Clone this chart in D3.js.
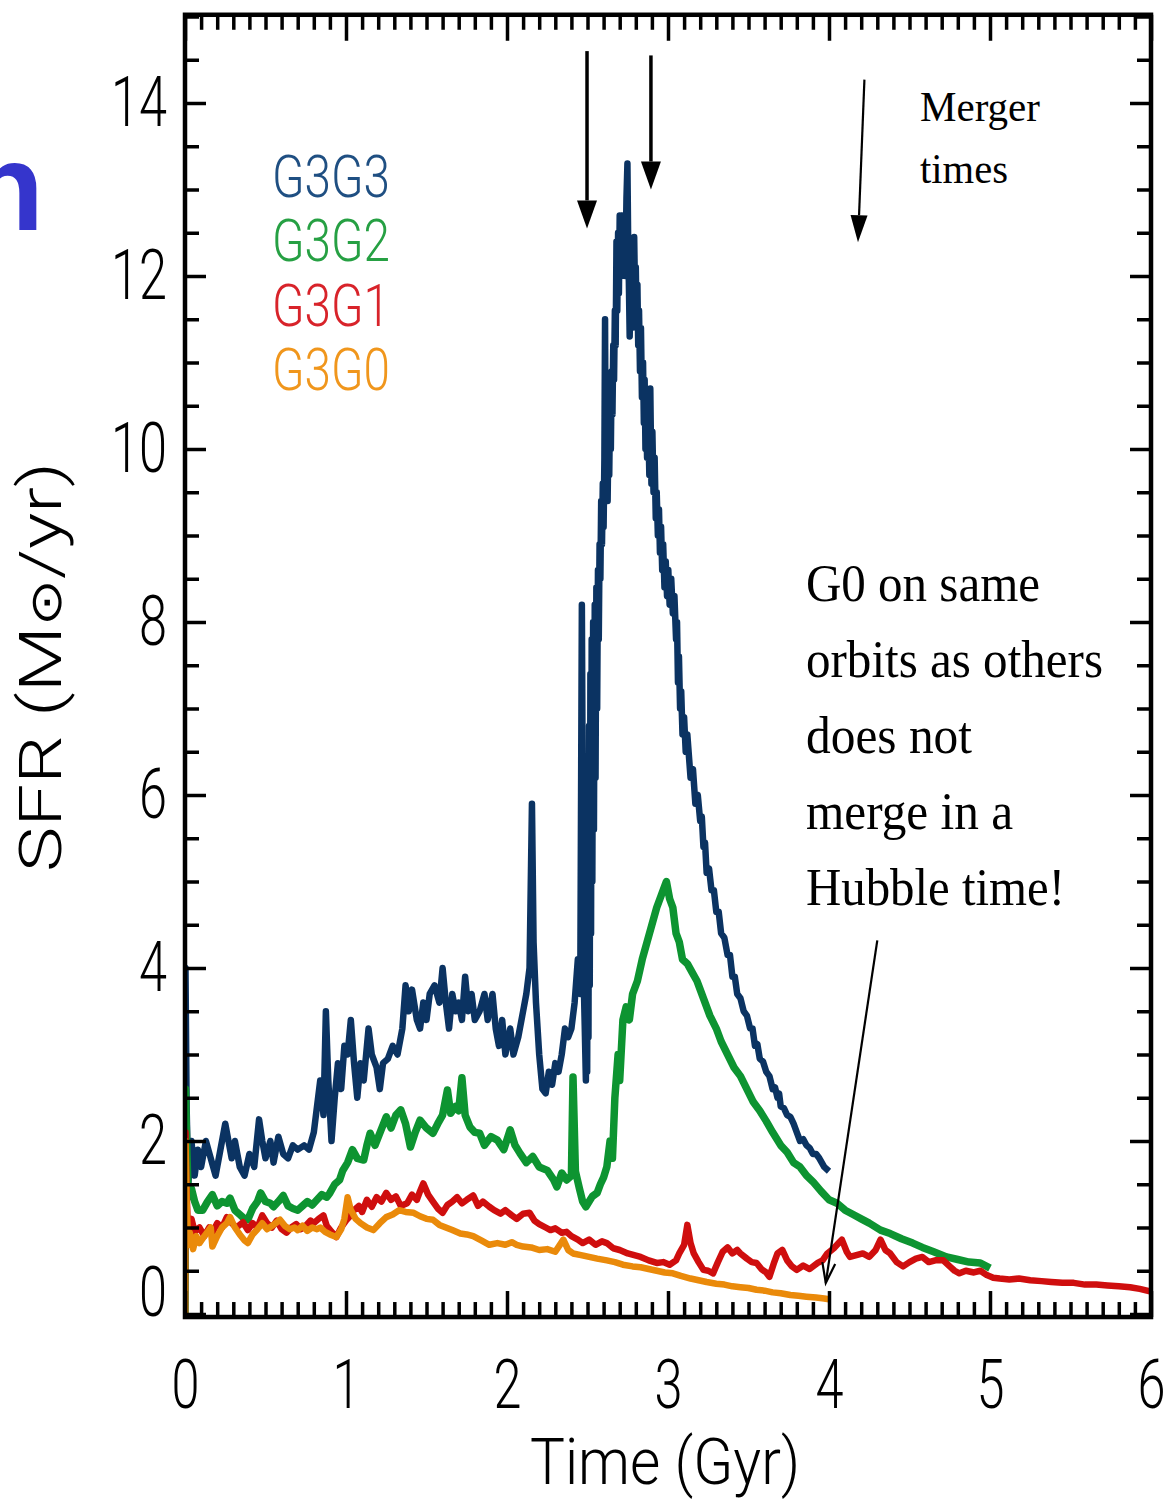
<!DOCTYPE html>
<html>
<head>
<meta charset="utf-8">
<script src="https://cdn.jsdelivr.net/npm/d3@7"></script>
<style>
body { margin: 0; background: #fff; }
svg { display: block; }
</style>
</head>
<body>
<div id="container"></div>
<script>
// SFR (Msun/yr) vs time (Gyr)
const g3g3 = [[0,0],[0.003,4.0],[0.01,2.4],[0.02,1.5],[0.04,2.0],[0.06,1.6],[0.08,1.9],[0.10,1.7],[0.13,2.0],[0.16,1.8],[0.19,1.6],[0.22,1.9],[0.25,2.2],[0.27,2.0],[0.29,1.8],[0.31,2.0],[0.34,1.7],[0.37,1.6],[0.40,1.85],[0.43,1.7],[0.46,2.25],[0.48,2.0],[0.50,1.8],[0.53,2.0],[0.55,1.75],[0.58,2.05],[0.61,1.85],[0.64,1.8],[0.67,1.95],[0.70,1.9],[0.74,1.95],[0.77,1.9],[0.80,2.1],[0.82,2.4],[0.84,2.7],[0.86,2.3],[0.875,3.5],[0.89,2.7],[0.91,2.0],[0.93,2.5],[0.95,2.9],[0.97,2.6],[0.99,3.1],[1.01,3.0],[1.03,3.4],[1.05,2.9],[1.07,2.5],[1.09,2.9],[1.11,2.7],[1.14,3.3],[1.16,3.0],[1.19,2.85],[1.21,2.6],[1.23,2.9],[1.26,2.95],[1.29,3.1],[1.32,3.0],[1.35,3.3],[1.37,3.8],[1.39,3.5],[1.41,3.75],[1.44,3.4],[1.46,3.3],[1.48,3.6],[1.50,3.4],[1.52,3.7],[1.55,3.8],[1.58,3.6],[1.60,4.0],[1.62,3.6],[1.64,3.3],[1.66,3.7],[1.68,3.5],[1.70,3.6],[1.72,3.4],[1.74,3.9],[1.76,3.5],[1.78,3.7],[1.80,3.4],[1.83,3.5],[1.86,3.7],[1.88,3.4],[1.91,3.7],[1.93,3.3],[1.95,3.1],[1.97,3.4],[1.99,3.0],[2.02,3.3],[2.04,3.0],[2.07,3.2],[2.10,3.5],[2.12,3.7],[2.14,4.0],[2.155,5.9],[2.165,4.3],[2.18,3.6],[2.20,3.0],[2.22,2.6],[2.24,2.55],[2.26,2.8],[2.28,2.65],[2.30,2.9],[2.32,2.8],[2.34,3.0],[2.36,3.3],[2.38,3.2],[2.40,3.3],[2.42,3.6],[2.44,4.1],[2.455,3.7],[2.465,8.2],[2.475,4.0],[2.49,2.7],[2.494,5.0],[2.498,2.8],[2.502,6.0],[2.506,3.2],[2.51,6.8],[2.514,3.8],[2.518,7.4],[2.522,4.4],[2.526,7.8],[2.53,5.0],[2.535,8.0],[2.54,5.6],[2.545,8.2],[2.55,6.2],[2.555,8.4],[2.56,7.0],[2.565,8.6],[2.57,7.8],[2.575,8.9],[2.58,8.5],[2.585,9.4],[2.59,8.9],[2.595,9.6],[2.60,9.1],[2.605,9.9],[2.609,11.5],[2.613,9.5],[2.62,9.9],[2.625,9.4],[2.63,10.2],[2.635,9.7],[2.64,10.5],[2.645,10.0],[2.65,10.9],[2.655,10.4],[2.66,11.2],[2.665,10.8],[2.67,11.6],[2.675,11.2],[2.68,12.4],[2.685,11.6],[2.69,12.5],[2.695,11.8],[2.70,12.7],[2.705,12.0],[2.71,12.6],[2.715,12.1],[2.72,12.7],[2.725,12.2],[2.73,12.6],[2.735,12.0],[2.742,12.9],[2.748,13.3],[2.752,12.5],[2.758,11.8],[2.762,11.3],[2.768,11.9],[2.773,11.4],[2.778,12.2],[2.783,11.6],[2.79,12.45],[2.795,11.8],[2.80,12.1],[2.805,11.4],[2.81,11.9],[2.815,11.2],[2.82,11.6],[2.826,10.9],[2.832,11.4],[2.838,10.6],[2.845,11.0],[2.85,10.3],[2.855,10.8],[2.86,10.0],[2.865,10.5],[2.87,9.9],[2.877,10.4],[2.884,9.7],[2.89,10.7],[2.897,9.6],[2.903,10.2],[2.91,9.5],[2.917,9.9],[2.924,9.2],[2.93,9.5],[2.937,9.0],[2.944,9.3],[2.95,8.8],[2.957,9.1],[2.964,8.6],[2.97,8.9],[2.978,8.4],[2.986,8.7],[2.994,8.3],[3.002,8.6],[3.01,8.2],[3.02,8.5],[3.03,8.1],[3.04,8.3],[3.05,7.8],[3.056,8.0],[3.062,7.3],[3.068,7.6],[3.075,7.0],[3.082,7.2],[3.09,6.7],[3.10,6.9],[3.11,6.5],[3.12,6.7],[3.14,6.2],[3.155,6.3],[3.17,5.9],[3.185,6.0],[3.20,5.7],[3.21,5.75],[3.22,5.4],[3.23,5.45],[3.24,5.1],[3.255,5.15],[3.27,4.9],[3.285,4.9],[3.30,4.65],[3.315,4.65],[3.33,4.4],[3.35,4.35],[3.37,4.15],[3.385,4.15],[3.40,3.9],[3.415,3.9],[3.43,3.7],[3.45,3.65],[3.47,3.5],[3.49,3.45],[3.51,3.3],[3.525,3.3],[3.54,3.1],[3.555,3.12],[3.57,2.95],[3.59,2.92],[3.61,2.8],[3.63,2.75],[3.65,2.6],[3.665,2.62],[3.68,2.5],[3.69,2.55],[3.70,2.4],[3.72,2.38],[3.74,2.3],[3.76,2.28],[3.78,2.2],[3.80,2.1],[3.82,2.0],[3.84,2.02],[3.86,1.95],[3.88,1.92],[3.90,1.85],[3.92,1.85],[3.94,1.8],[3.97,1.7],[4.0,1.65]];

const g3g2 = [[0,0],[0.003,2.6],[0.01,2.0],[0.02,1.35],[0.04,1.45],[0.06,1.3],[0.08,1.2],[0.11,1.2],[0.14,1.3],[0.17,1.38],[0.20,1.25],[0.23,1.3],[0.26,1.28],[0.28,1.34],[0.31,1.2],[0.34,1.15],[0.37,1.1],[0.39,1.09],[0.42,1.22],[0.45,1.3],[0.47,1.4],[0.50,1.3],[0.53,1.28],[0.55,1.24],[0.58,1.3],[0.61,1.37],[0.64,1.25],[0.67,1.22],[0.70,1.2],[0.73,1.25],[0.76,1.3],[0.79,1.26],[0.82,1.32],[0.85,1.38],[0.88,1.35],[0.90,1.4],[0.93,1.5],[0.96,1.55],[0.98,1.66],[1.01,1.75],[1.04,1.9],[1.07,1.8],[1.11,1.78],[1.13,1.95],[1.15,2.09],[1.18,1.95],[1.21,2.09],[1.25,2.28],[1.28,2.15],[1.31,2.3],[1.34,2.36],[1.37,2.2],[1.40,1.93],[1.43,2.1],[1.46,2.24],[1.50,2.15],[1.54,2.09],[1.57,2.2],[1.60,2.3],[1.63,2.59],[1.65,2.32],[1.68,2.4],[1.70,2.35],[1.72,2.73],[1.74,2.3],[1.77,2.16],[1.80,2.1],[1.83,2.09],[1.86,1.95],[1.90,2.05],[1.94,2.01],[1.98,1.9],[2.02,2.13],[2.05,1.95],[2.08,1.86],[2.12,1.75],[2.16,1.82],[2.20,1.7],[2.25,1.66],[2.29,1.55],[2.31,1.47],[2.34,1.63],[2.37,1.55],[2.40,1.6],[2.41,2.74],[2.425,1.65],[2.45,1.45],[2.47,1.3],[2.49,1.24],[2.51,1.3],[2.53,1.36],[2.56,1.4],[2.58,1.5],[2.60,1.58],[2.62,1.7],[2.64,2.0],[2.655,1.8],[2.67,2.5],[2.69,3.0],[2.70,2.7],[2.72,3.4],[2.74,3.55],[2.76,3.4],[2.78,3.7],[2.81,3.85],[2.84,4.1],[2.87,4.3],[2.90,4.5],[2.93,4.7],[2.96,4.85],[2.99,5.0],[3.01,4.8],[3.03,4.7],[3.05,4.4],[3.07,4.3],[3.09,4.1],[3.12,4.05],[3.15,3.95],[3.18,3.85],[3.20,3.75],[3.23,3.6],[3.26,3.45],[3.30,3.3],[3.33,3.15],[3.37,3.0],[3.41,2.85],[3.45,2.75],[3.49,2.6],[3.53,2.45],[3.57,2.35],[3.61,2.23],[3.65,2.1],[3.70,1.95],[3.74,1.87],[3.78,1.75],[3.82,1.7],[3.86,1.6],[3.90,1.53],[3.95,1.42],[4.0,1.32],[4.05,1.28],[4.10,1.2],[4.15,1.15],[4.20,1.1],[4.25,1.05],[4.32,0.97],[4.38,0.93],[4.45,0.87],[4.52,0.82],[4.58,0.77],[4.65,0.72],[4.73,0.66],[4.80,0.63],[4.87,0.6],[4.94,0.59],[5.0,0.53]];

const g3g1 = [[0,0],[0.003,2.1],[0.01,1.4],[0.02,0.9],[0.04,1.1],[0.06,0.95],[0.09,1.0],[0.12,0.9],[0.15,1.0],[0.17,0.94],[0.20,1.05],[0.23,1.0],[0.26,1.12],[0.29,1.05],[0.32,1.0],[0.36,1.06],[0.39,0.97],[0.42,1.05],[0.45,1.0],[0.48,1.14],[0.51,1.05],[0.54,1.0],[0.57,1.08],[0.60,0.98],[0.63,0.94],[0.66,1.0],[0.69,1.04],[0.72,0.98],[0.75,1.02],[0.78,1.08],[0.80,1.05],[0.83,1.1],[0.86,1.14],[0.88,1.02],[0.91,0.95],[0.94,0.89],[0.97,1.0],[1.00,1.08],[1.02,1.12],[1.05,1.2],[1.08,1.25],[1.10,1.18],[1.13,1.32],[1.16,1.24],[1.19,1.35],[1.22,1.3],[1.25,1.4],[1.28,1.32],[1.31,1.36],[1.34,1.25],[1.38,1.28],[1.41,1.38],[1.44,1.32],[1.46,1.42],[1.48,1.51],[1.51,1.38],[1.54,1.3],[1.57,1.22],[1.60,1.17],[1.63,1.26],[1.66,1.3],[1.69,1.35],[1.72,1.28],[1.75,1.32],[1.79,1.37],[1.82,1.25],[1.85,1.3],[1.89,1.24],[1.92,1.2],[1.96,1.16],[1.99,1.2],[2.03,1.14],[2.06,1.1],[2.10,1.16],[2.14,1.17],[2.17,1.08],[2.20,1.04],[2.24,1.0],[2.27,0.97],[2.30,0.99],[2.34,0.94],[2.37,0.95],[2.40,0.9],[2.44,0.86],[2.47,0.82],[2.51,0.86],[2.55,0.8],[2.59,0.84],[2.62,0.82],[2.66,0.76],[2.70,0.74],[2.75,0.7],[2.79,0.68],[2.83,0.66],[2.88,0.62],[2.93,0.59],[2.97,0.6],[3.01,0.57],[3.05,0.62],[3.07,0.7],[3.10,0.8],[3.12,1.03],[3.14,0.82],[3.16,0.7],[3.19,0.6],[3.22,0.51],[3.25,0.5],[3.28,0.47],[3.31,0.6],[3.34,0.72],[3.37,0.77],[3.40,0.7],[3.43,0.74],[3.45,0.7],[3.49,0.64],[3.52,0.6],[3.55,0.59],[3.58,0.52],[3.61,0.48],[3.63,0.43],[3.66,0.6],[3.68,0.7],[3.71,0.74],[3.74,0.62],[3.77,0.55],[3.80,0.51],[3.84,0.56],[3.88,0.52],[3.93,0.59],[3.96,0.62],[3.99,0.7],[4.03,0.76],[4.06,0.82],[4.08,0.86],[4.11,0.72],[4.13,0.66],[4.17,0.68],[4.21,0.7],[4.25,0.66],[4.29,0.74],[4.32,0.86],[4.35,0.74],[4.38,0.7],[4.42,0.6],[4.46,0.55],[4.50,0.6],[4.54,0.64],[4.58,0.66],[4.62,0.6],[4.66,0.62],[4.71,0.62],[4.75,0.55],[4.78,0.5],[4.81,0.47],[4.85,0.5],[4.90,0.48],[4.94,0.5],[4.98,0.45],[5.02,0.42],[5.06,0.41],[5.12,0.4],[5.18,0.41],[5.25,0.39],[5.32,0.38],[5.38,0.37],[5.45,0.36],[5.52,0.36],[5.59,0.34],[5.66,0.34],[5.73,0.33],[5.80,0.32],[5.87,0.31],[5.93,0.29],[6.0,0.26]];

const g3g0 = [[0,0],[0.003,2.0],[0.01,1.3],[0.02,0.8],[0.03,0.94],[0.05,0.75],[0.07,0.9],[0.09,0.82],[0.12,0.9],[0.14,0.95],[0.16,1.0],[0.17,0.78],[0.20,0.9],[0.23,1.0],[0.26,1.05],[0.28,1.12],[0.31,1.0],[0.34,0.92],[0.37,0.85],[0.39,0.82],[0.42,0.92],[0.45,0.98],[0.48,1.05],[0.51,0.98],[0.54,1.02],[0.57,1.06],[0.59,1.09],[0.62,1.02],[0.65,0.98],[0.68,1.0],[0.70,0.97],[0.73,1.02],[0.76,0.96],[0.79,1.0],[0.82,0.98],[0.84,1.0],[0.87,0.95],[0.90,0.92],[0.94,0.89],[0.97,0.98],[0.99,1.1],[1.01,1.35],[1.03,1.2],[1.06,1.1],[1.09,1.05],[1.13,1.0],[1.17,0.97],[1.21,1.05],[1.25,1.12],[1.29,1.15],[1.33,1.2],[1.37,1.18],[1.42,1.17],[1.46,1.13],[1.50,1.1],[1.54,1.09],[1.58,1.03],[1.62,1.0],[1.66,0.97],[1.71,0.93],[1.75,0.92],[1.79,0.9],[1.84,0.85],[1.89,0.8],[1.94,0.82],[1.99,0.8],[2.03,0.83],[2.06,0.8],[2.10,0.78],[2.15,0.77],[2.20,0.74],[2.25,0.75],[2.30,0.72],[2.35,0.86],[2.38,0.74],[2.41,0.7],[2.46,0.68],[2.51,0.66],[2.56,0.64],[2.62,0.62],[2.67,0.6],[2.72,0.57],[2.78,0.55],[2.83,0.54],[2.88,0.52],[2.93,0.5],[2.98,0.48],[3.03,0.47],[3.08,0.44],[3.14,0.41],[3.19,0.39],[3.24,0.37],[3.30,0.35],[3.35,0.34],[3.40,0.32],[3.45,0.31],[3.50,0.3],[3.55,0.28],[3.60,0.27],[3.65,0.25],[3.70,0.24],[3.76,0.22],[3.81,0.21],[3.86,0.2],[3.92,0.19],[3.97,0.18],[4.0,0.17]];

const seriesNames = ["G3G3", "G3G2", "G3G1", "G3G0"];
const lineColors = ["#0b3362", "#0d9431", "#cf0e0e", "#ea8a0a"];
const labelColors = ["#1f4f82", "#26a043", "#d8232a", "#f0961c"];

const xTickLabels = [0, 1, 2, 3, 4, 5, 6];
const yTickLabels = [0, 2, 4, 6, 8, 10, 12, 14];

// merger time arrows: [t0, v0, t1, v1, width]
const mergerArrows = [[2.497, 14.6, 2.497, 12.55, 3.5], [2.894, 14.55, 2.894, 13.0, 3.5], [4.22, 14.27, 4.18, 12.39, 2.2]];
const g0Arrow = [4.30, 4.32, 3.98, 0.36];

const w = 1164, h = 1501;
const svg = d3.select("#container").append("svg").attr("width", w).attr("height", h);

const xScale = d3.scaleLinear().domain([0, 6]).range([185, 1151]);
const yScale = d3.scaleLinear().domain([0, 15]).range([1314, 16.5]);
const yBottom = yScale(-0.035), yTop = yScale(15.02);

const tickFont = "Roboto, 'DejaVu Sans', sans-serif";

// cut-off slide title letter
svg.append("text").attr("x", 44).attr("y", 230).attr("text-anchor", "end")
  .attr("font-family", "'Liberation Sans', Arial, sans-serif").attr("font-weight", "bold")
  .attr("font-size", 124).attr("fill", "#3535cc").text("n");

svg.append("clipPath").attr("id", "clip").append("rect")
  .attr("x", xScale(0)).attr("y", yTop).attr("width", xScale(6) - xScale(0)).attr("height", yBottom - yTop);

const line = d3.line().x(d => xScale(d[0])).y(d => yScale(d[1]));
const allSeries = [g3g3, g3g2, g3g1, g3g0];
const widths = [6.5, 7.5, 6.5, 6.5];
const plot = svg.append("g").attr("clip-path", "url(#clip)");
allSeries.forEach((s, i) => {
  plot.append("path").datum(s).attr("d", line).attr("fill", "none")
    .attr("stroke", lineColors[i]).attr("stroke-width", widths[i]).attr("stroke-linejoin", "round");
});

// axes, ticks pointing inwards
const xMinor = d3.range(0, 6.001, 0.1).filter(v => Math.abs(v - Math.round(v)) > 0.01);
const yMinor = d3.range(0, 15.01, 0.5).filter(v => v % 2 !== 0);

function styleAxis(g) {
  g.select(".domain").remove();
  g.selectAll(".tick line").attr("stroke", "#000").attr("stroke-width", 3.5);
}

const xb = svg.append("g").attr("transform", `translate(0,${yBottom})`)
  .call(d3.axisBottom(xScale).tickValues(xTickLabels).tickSize(-26).tickFormat(d3.format("d")));
styleAxis(xb);
xb.selectAll("text").attr("y", 91).attr("dy", null).attr("font-family", tickFont).attr("font-weight", 300)
  .attr("font-size", 68).attr("fill", "#000").attr("textLength", 28).attr("lengthAdjust", "spacingAndGlyphs");
svg.append("g").attr("transform", `translate(0,${yBottom})`)
  .call(d3.axisBottom(xScale).tickValues(xMinor).tickSize(-15).tickFormat("")).call(styleAxis);
svg.append("g").attr("transform", `translate(0,${yTop})`)
  .call(d3.axisTop(xScale).tickValues(xTickLabels).tickSize(-26).tickFormat("")).call(styleAxis);
svg.append("g").attr("transform", `translate(0,${yTop})`)
  .call(d3.axisTop(xScale).tickValues(xMinor).tickSize(-15).tickFormat("")).call(styleAxis);

const yl = svg.append("g").attr("transform", `translate(${xScale(0)},0)`)
  .call(d3.axisLeft(yScale).tickValues(yTickLabels).tickSize(-21).tickPadding(18));
styleAxis(yl);
yl.selectAll("text").attr("font-family", tickFont).attr("font-weight", 300).attr("font-size", 70).attr("fill", "#000")
  .attr("textLength", d => String(d).length * 28).attr("lengthAdjust", "spacingAndGlyphs")
  .attr("y", d => d === 0 ? -21 : 0);
svg.append("g").attr("transform", `translate(${xScale(0)},0)`)
  .call(d3.axisLeft(yScale).tickValues(yMinor).tickSize(-14).tickFormat("")).call(styleAxis);
svg.append("g").attr("transform", `translate(${xScale(6)},0)`)
  .call(d3.axisRight(yScale).tickValues(yTickLabels).tickSize(-21).tickFormat("")).call(styleAxis);
svg.append("g").attr("transform", `translate(${xScale(6)},0)`)
  .call(d3.axisRight(yScale).tickValues(yMinor).tickSize(-14).tickFormat("")).call(styleAxis);

// frame
svg.append("rect").attr("x", xScale(0)).attr("y", yTop).attr("width", xScale(6) - xScale(0)).attr("height", yBottom - yTop)
  .attr("fill", "none").attr("stroke", "#000").attr("stroke-width", 4.5);

// axis titles
svg.append("text").attr("x", 665).attr("y", 1484).attr("text-anchor", "middle")
  .attr("font-family", tickFont).attr("font-weight", 300).attr("font-size", 64)
  .attr("textLength", 270).attr("lengthAdjust", "spacingAndGlyphs").text("Time (Gyr)");
const yTitle = svg.append("text").attr("transform", "translate(61,667) rotate(-90)").attr("text-anchor", "middle")
  .attr("font-family", tickFont).attr("font-weight", 300).attr("font-size", 60)
  .attr("textLength", 410).attr("lengthAdjust", "spacingAndGlyphs");
yTitle.append("tspan").text("SFR  (M");
yTitle.append("tspan").attr("font-size", 44).text("\u2299");
yTitle.append("tspan").text("/yr)");

// legend
seriesNames.forEach((name, i) => {
  svg.append("text").attr("x", 272).attr("y", 197 + i * 64.3)
    .attr("font-family", tickFont).attr("font-weight", 300).attr("font-size", 60)
    .attr("fill", labelColors[i]).attr("textLength", 118).attr("lengthAdjust", "spacingAndGlyphs").text(name);
});

// arrows
function arrow(a, headLen, headW, filled) {
  const x1 = xScale(a[0]), y1 = yScale(a[1]), x2 = xScale(a[2]), y2 = yScale(a[3]);
  const lw = a[4] || 2;
  const ang = Math.atan2(y2 - y1, x2 - x1);
  const bx = x2 - headLen * Math.cos(ang), by = y2 - headLen * Math.sin(ang);
  const px = -Math.sin(ang) * headW / 2, py = Math.cos(ang) * headW / 2;
  svg.append("line").attr("x1", x1).attr("y1", y1).attr("x2", filled ? bx : x2).attr("y2", filled ? by : y2)
    .attr("stroke", "#000").attr("stroke-width", lw);
  if (filled) {
    svg.append("path").attr("d", `M${x2},${y2}L${bx + px},${by + py}L${bx - px},${by - py}Z`).attr("fill", "#000");
  } else {
    svg.append("path").attr("d", `M${bx + px},${by + py}L${x2},${y2}L${bx - px},${by - py}`)
      .attr("fill", "none").attr("stroke", "#000").attr("stroke-width", lw);
  }
}
arrow(mergerArrows[0], 28, 20, true);
arrow(mergerArrows[1], 28, 20, true);
arrow(mergerArrows[2], 27, 17, true);
arrow(g0Arrow.concat([2.2]), 20, 13, false);

// annotations
const serif = "'Liberation Serif', 'Times New Roman', serif";
[["Merger", 121, 120], ["times", 183, 88]].forEach(d => {
  svg.append("text").attr("x", 920).attr("y", d[1]).attr("font-family", serif).attr("font-size", 43)
    .attr("textLength", d[2]).attr("lengthAdjust", "spacingAndGlyphs").text(d[0]);
});
const noteLines = [["G0 on same", 234], ["orbits as others", 297], ["does not", 166], ["merge in a", 207], ["Hubble time!", 259]];
noteLines.forEach((d, i) => {
  svg.append("text").attr("x", 806).attr("y", 601 + i * 76).attr("font-family", serif).attr("font-size", 52)
    .attr("textLength", d[1]).attr("lengthAdjust", "spacingAndGlyphs").text(d[0]);
});
</script>
</body>
</html>
